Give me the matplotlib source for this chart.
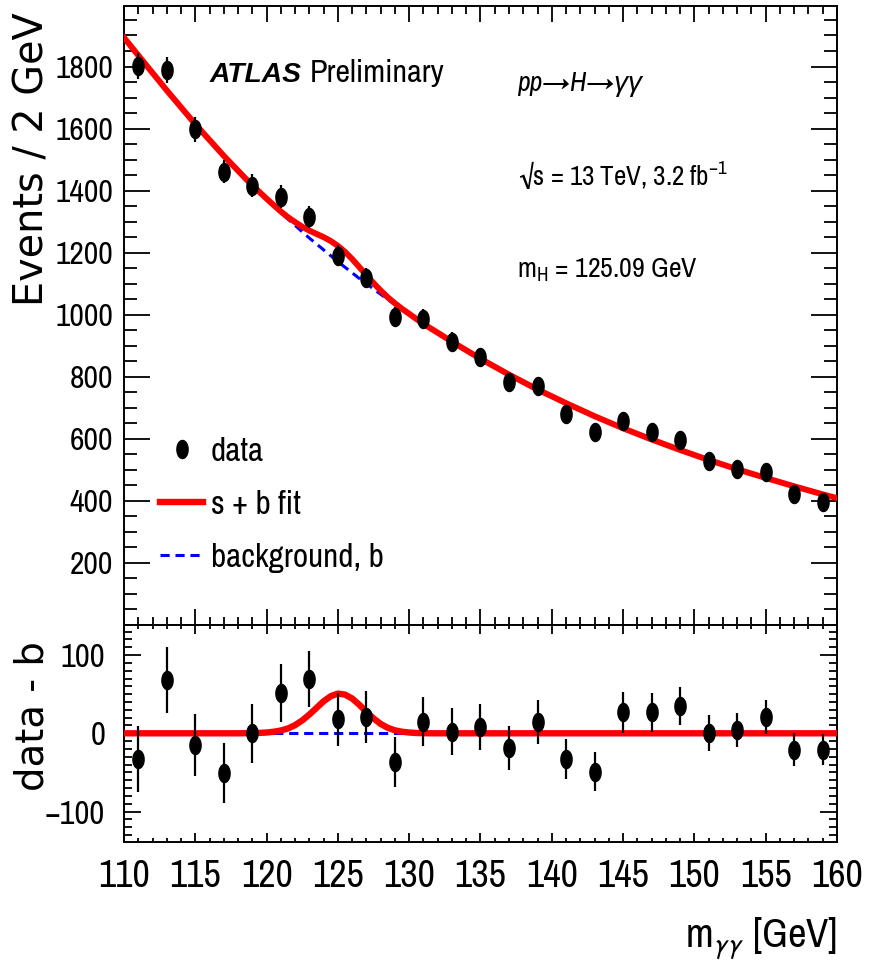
import numpy as np
import matplotlib
matplotlib.use("Agg")
import matplotlib.pyplot as plt
from matplotlib.path import Path
from matplotlib.lines import Line2D
from matplotlib.ticker import MultipleLocator, FixedLocator
from matplotlib import font_manager as fm

# ---------------- data ----------------
bin_centers = [111, 113, 115, 117, 119, 121, 123, 125, 127, 129, 131, 133, 135,
               137, 139, 141, 143, 145, 147, 149, 151, 153, 155, 157, 159]
events = [1803, 1790, 1597, 1461, 1416, 1380, 1316, 1190, 1119, 994, 987, 913, 864,
          784, 771, 681, 623, 658, 621, 597, 529, 503, 493, 423, 397]
errors = [42, 42, 40, 38, 38, 37, 36, 34, 33, 32, 31, 30, 29,
          28, 28, 26, 25, 26, 25, 24, 23, 22, 22, 21, 20]
residuals = [-33, 68, -15, -51, 0, 51, 69, 18, 21, -37, 15, 2, 8,
             -19, 14, -33, -49, 27, 27, 35, 1, 4, 21, -21, -21]

curve_x = [110, 111, 113, 115, 117, 118, 118.5, 119, 119.5, 120, 120.5, 121, 121.5,
           122, 122.5, 123, 123.5, 124, 124.5, 125, 125.5, 126, 126.5, 127, 127.5,
           128, 128.5, 129, 129.5, 130, 130.5, 131, 131.5, 132, 133, 135, 137, 139,
           141, 143, 145, 147, 149, 151, 153, 155, 157, 159, 160]
background = [1893, 1836, 1723, 1614, 1512, 1464, 1440, 1417, 1395, 1373, 1351, 1329, 1308,
              1288, 1267, 1247, 1228, 1209, 1190, 1171, 1153, 1135, 1117, 1100, 1083,
              1066, 1049, 1033, 1017, 1002, 986, 971, 956, 942, 913, 858, 807, 759,
              715, 673, 634, 598, 564, 532, 502, 474, 447, 421, 409]
signal = [0, 0, 0, 0, 0, 0, 0.1, 0.2, 0.5, 1.0, 2.0, 3.6, 6.2,
          10.5, 16.5, 24, 32.5, 41, 47.5, 50.8, 49.5, 44.5, 36.5, 27.5, 19,
          12, 7, 3.8, 2, 1, 0.4, 0.15, 0.05, 0, 0, 0, 0, 0,
          0, 0, 0, 0, 0, 0, 0, 0, 0, 0, 0]

top_yticks = [200, 400, 600, 800, 1000, 1200, 1400, 1600, 1800]
bot_yticks = [-100, 0, 100]
bot_yticklabels = ["\u2212100", "0", "100"]
xticks = [110, 115, 120, 125, 130, 135, 140, 145, 150, 155, 160]

# ---------------- style ----------------
names = sorted({f.name for f in fm.fontManager.ttflist})
prefs = ["Nimbus Sans Narrow", "Liberation Sans Narrow", "Arial Narrow",
         "Archivo Narrow", "Roboto Condensed", "IBM Plex Sans Condensed"]
FONT = next((n for n in prefs if n in names), "Liberation Sans")
plt.rcParams["font.family"] = [FONT, "Liberation Sans", "DejaVu Sans"]
plt.rcParams["mathtext.fontset"] = "custom"
plt.rcParams["mathtext.rm"] = FONT
plt.rcParams["mathtext.it"] = FONT + ":italic"
plt.rcParams["mathtext.bf"] = FONT + ":bold"
plt.rcParams["mathtext.fallback"] = "stixsans"

RED = "#ff0000"
BLUE = "#0000ff"
DASH_LW = 2.2
DASHES = (3.0, 1.9)

fig = plt.figure(figsize=(8.75, 9.65), dpi=100)
W, H = 875.0, 965.0
ax1 = fig.add_axes([124 / W, 1 - 625 / H, (837 - 124) / W, (625 - 6) / H])
ax2 = fig.add_axes([124 / W, 1 - 842 / H, (837 - 124) / W, (842 - 625) / H])

th = np.linspace(0, 2 * np.pi, 64)
ell = Path(np.column_stack([0.62 * np.cos(th), np.sin(th)]), closed=True)

sb = np.array(background) + np.array(signal)

# top panel
ax1.plot(curve_x, background, color=BLUE, lw=DASH_LW, dashes=DASHES, zorder=2)
ax1.plot(curve_x, sb, color=RED, lw=4.3, zorder=3, solid_joinstyle="round")
ax1.errorbar(bin_centers, events, yerr=errors, fmt="none", ecolor="black",
             elinewidth=1.6, capsize=0, zorder=4)
ax1.plot(bin_centers, events, ls="none", marker=ell, ms=13, color="black", zorder=5)

# bottom panel
zeros = [0] * len(curve_x)
ax2.plot(curve_x, zeros, color=BLUE, lw=DASH_LW, dashes=DASHES, zorder=2)
ax2.plot(curve_x, signal, color=RED, lw=4.6, zorder=3, solid_joinstyle="round")
ax2.errorbar(bin_centers, residuals, yerr=errors, fmt="none", ecolor="black",
             elinewidth=1.6, capsize=0, zorder=4)
ax2.plot(bin_centers, residuals, ls="none", marker=ell, ms=13, color="black", zorder=5)

for ax in (ax1, ax2):
    ax.set_xlim(110, 160)
    for s in ax.spines.values():
        s.set_linewidth(1.4)
    ax.xaxis.set_major_locator(FixedLocator(xticks))
    ax.xaxis.set_minor_locator(MultipleLocator(1))
    ax.tick_params(which="both", direction="in", top=True, right=True, width=1.3)

ax1.set_ylim(0, 1995)
ax1.yaxis.set_major_locator(FixedLocator(top_yticks))
ax1.yaxis.set_minor_locator(MultipleLocator(50))
ax1.tick_params(axis="y", which="major", length=18.5)
ax1.tick_params(axis="y", which="minor", length=9.3)
ax1.tick_params(axis="x", which="major", length=11.5)
ax1.tick_params(axis="x", which="minor", length=5.6)
ax1.tick_params(axis="x", labelbottom=False)
ax1.tick_params(axis="y", labelsize=22, pad=8)

ax2.set_ylim(-139, 138.5)
ax2.yaxis.set_major_locator(FixedLocator(bot_yticks))
ax2.yaxis.set_minor_locator(MultipleLocator(10))
ax2.set_yticklabels(bot_yticklabels)
ax2.tick_params(axis="y", which="major", length=12)
ax2.tick_params(axis="y", which="minor", length=6)
ax2.tick_params(axis="x", which="major", length=6.2)
ax2.tick_params(axis="x", which="minor", length=3.2)
ax2.tick_params(axis="y", labelsize=22, pad=13.5)
ax2.tick_params(axis="x", labelsize=26, pad=12.5)

# axis titles (rotated titles look stretched in the reference -> wide font)
t_ylab1 = fig.text(33 / W, 1 - 12 / H, "Events / 2 GeV", rotation=90, ha="center",
                   va="top", fontsize=28, family="DejaVu Sans")
t_ylab2 = fig.text(33 / W, 1 - 641 / H, "data - b", rotation=90, ha="center", va="top",
                   fontsize=28, family="DejaVu Sans")
t_xlab = fig.text(837 / W, 1 - 947 / H, r"m$_{\gamma\gamma}$ [GeV]", ha="right",
                  va="baseline", fontsize=30)


def fx(px):
    return (px - 124) / 713.0


def fy(py):
    return (625 - py) / 619.0


t_atlas = ax1.text(fx(210), fy(82), "ATLAS", fontsize=24, fontweight="bold",
                   fontstyle="italic", family=["Liberation Sans", "DejaVu Sans"],
                   ha="left", va="baseline", transform=ax1.transAxes)
t_prel = ax1.text(fx(310), fy(82), "Preliminary", fontsize=24, ha="left", va="baseline",
                  transform=ax1.transAxes)
t_pp = ax1.text(fx(517), fy(91), "pp\u2192H\u2192\u03b3\u03b3", fontsize=19,
                fontstyle="italic", ha="left", va="baseline", transform=ax1.transAxes)
t_sqrt = ax1.text(fx(518), fy(185), "\u221as = 13 TeV, 3.2 fb$^{-1}$",
                  fontsize=20, ha="left", va="baseline", transform=ax1.transAxes)
t_mh = ax1.text(fx(517), fy(277), r"m$_{\rm H}$ = 125.09 GeV", fontsize=20,
                ha="left", va="baseline", transform=ax1.transAxes)

# --- fit text sizes to the widths measured on the reference (pixels) ---
fig.canvas.draw()
R = fig.canvas.get_renderer()


def fit_w(t, target):
    w = t.get_window_extent(R).width
    t.set_fontsize(t.get_fontsize() * target / w)


def fit_h(t, target):
    h = t.get_window_extent(R).height
    t.set_fontsize(t.get_fontsize() * target / h)


fit_w(t_atlas, 92)
fit_w(t_prel, 135)
fit_w(t_pp, 125)
fit_w(t_sqrt, 210)
fit_w(t_mh, 181)
fit_w(t_xlab, 152)
fit_h(t_ylab1, 294)
fit_h(t_ylab2, 150)

lab = ax2.get_xticklabels()[0]
ax2.tick_params(axis="x", labelsize=lab.get_fontsize() * 52 / lab.get_window_extent(R).width)
lab = ax1.get_yticklabels()[-1]
ax1.tick_params(axis="y", labelsize=lab.get_fontsize() * 58 / lab.get_window_extent(R).width)
lab = ax2.get_yticklabels()[-1]
ax2.tick_params(axis="y", labelsize=lab.get_fontsize() * 45 / lab.get_window_extent(R).width)

# legend
h_data = Line2D([], [], ls="none", marker=ell, ms=13, color="black")
h_sb = Line2D([], [], color=RED, lw=4.6)
h_b = Line2D([], [], color=BLUE, lw=DASH_LW, dashes=DASHES)
labels = ["data", "s + b fit", "background, b"]

probe = ax1.text(0, 0, labels[2], fontsize=20, transform=ax1.transAxes)
fig.canvas.draw()
leg_fs = 20 * 172 / probe.get_window_extent(R).width
probe.remove()
fs_px = leg_fs * 100 / 72.0

ls = 0.6
anchor = [fx(160), fy(436)]
for _ in range(3):
    leg = ax1.legend([h_data, h_sb, h_b], labels, loc="upper left",
                     bbox_to_anchor=tuple(anchor), frameon=False, fontsize=leg_fs,
                     borderpad=0, borderaxespad=0, handlelength=43.0 / fs_px,
                     handletextpad=8.0 / fs_px, labelspacing=ls)
    fig.canvas.draw()
    txts = leg.get_texts()
    bb0 = txts[0].get_window_extent(R)
    bb2 = txts[2].get_window_extent(R)
    pitch = ((bb0.y0 + bb0.y1) - (bb2.y0 + bb2.y1)) / 4.0
    ls = ls + (53.0 - pitch) / fs_px
    cy = H - (bb0.y0 + bb0.y1) / 2.0
    anchor[1] = anchor[1] + (cy - 452.0) / 619.0
    anchor[0] = anchor[0] + (211.0 - bb0.x0) / 713.0

fig.savefig("out.png", dpi=100)
